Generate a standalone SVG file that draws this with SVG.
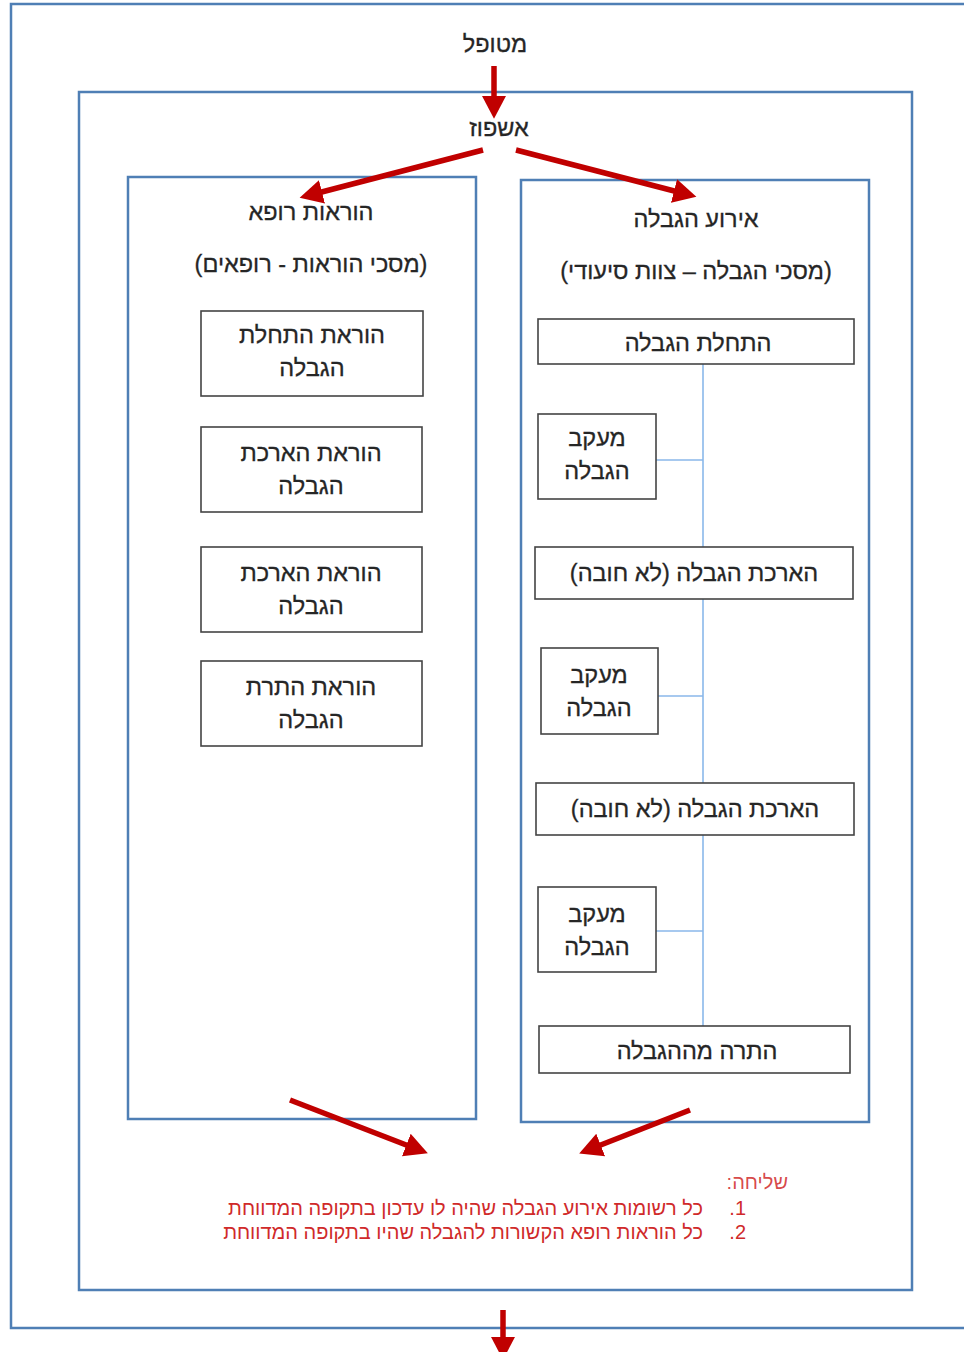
<svg xmlns="http://www.w3.org/2000/svg" width="964" height="1352" viewBox="0 0 964 1352">
<defs>
<style>
.frame{fill:none;stroke:#4f7fb5;stroke-width:2.5}
.box{fill:#fff;stroke:#444;stroke-width:1.6}
.t{font-family:"Liberation Sans","DejaVu Sans",sans-serif;font-size:23.5px;fill:#262626;stroke:#262626;stroke-width:0.3;text-anchor:middle}
.red{font-family:"Liberation Sans","DejaVu Sans",sans-serif;font-size:20px;fill:#d02a2a}
.arr{stroke:#c00000;stroke-width:5.5;fill:none;marker-end:url(#ah)}
.link{stroke:#8ab8ea;stroke-width:1.6;fill:none}
</style>
<marker id="ah" markerWidth="5" markerHeight="5" refX="1.5" refY="2.5" orient="auto" markerUnits="strokeWidth">
<path d="M0,0.3 L4.2,2.5 L0,4.7 Z" fill="#c00000"/>
</marker>
</defs>
<rect width="964" height="1352" fill="#fff"/>
<g id="frames">
<path class="frame" d="M980,4 H11 V1328 H980"/>
<rect class="frame" x="79" y="92" width="833" height="1198"/>
<rect class="frame" x="128" y="177" width="348" height="942"/>
<rect class="frame" x="521" y="180" width="348" height="942"/>
</g>
<g id="connectors">
<line class="arr" x1="494" y1="66" x2="494" y2="104"/>
<line class="arr" x1="483" y1="150" x2="314" y2="194"/>
<line class="arr" x1="516" y1="150" x2="682" y2="193"/>
<line class="arr" x1="290" y1="1100" x2="414" y2="1148"/>
<line class="arr" x1="690" y1="1110" x2="593" y2="1148"/>
<line class="arr" x1="503" y1="1310" x2="503" y2="1345"/>
<path class="link" d="M703,364 V1026 M656,460 H703 M658,696 H703 M656,931 H703"/>
</g>
<g id="n-metupal"><text class="t" x="495" y="52" direction="rtl">מטופל</text></g>
<g id="n-ishpuz"><text class="t" x="499" y="136" direction="rtl">אשפוז</text></g>
<g id="n-doctor-title">
<text class="t" x="311" y="220" direction="rtl">הוראות רופא</text>
<text class="t" x="311" y="272" direction="rtl">(מסכי הוראות - רופאים)</text>
</g>
<g id="n-event-title">
<text class="t" x="696" y="227" direction="rtl">אירוע הגבלה</text>
<text class="t" x="696" y="279" direction="rtl">(מסכי הגבלה – צוות סיעודי)</text>
</g>
<g id="n-l1"><rect class="box" x="201" y="311" width="222" height="85"/>
<text class="t" x="312" y="343" direction="rtl">הוראת התחלת</text><text class="t" x="312" y="376" direction="rtl">הגבלה</text></g>
<g id="n-l2"><rect class="box" x="201" y="427" width="221" height="85"/>
<text class="t" x="311" y="461" direction="rtl">הוראת הארכת</text><text class="t" x="311" y="494" direction="rtl">הגבלה</text></g>
<g id="n-l3"><rect class="box" x="201" y="547" width="221" height="85"/>
<text class="t" x="311" y="581" direction="rtl">הוראת הארכת</text><text class="t" x="311" y="614" direction="rtl">הגבלה</text></g>
<g id="n-l4"><rect class="box" x="201" y="661" width="221" height="85"/>
<text class="t" x="311" y="695" direction="rtl">הוראת התרת</text><text class="t" x="311" y="728" direction="rtl">הגבלה</text></g>
<g id="n-r1"><rect class="box" x="538" y="319" width="316" height="45"/>
<text class="t" x="698" y="351" direction="rtl">התחלת הגבלה</text></g>
<g id="n-r2"><rect class="box" x="538" y="414" width="118" height="85"/>
<text class="t" x="597" y="446" direction="rtl">מעקב</text><text class="t" x="597" y="479" direction="rtl">הגבלה</text></g>
<g id="n-r3"><rect class="box" x="535" y="547" width="318" height="52"/>
<text class="t" x="694" y="581" direction="rtl">הארכת הגבלה (לא חובה)</text></g>
<g id="n-r4"><rect class="box" x="541" y="648" width="117" height="86"/>
<text class="t" x="599" y="683" direction="rtl">מעקב</text><text class="t" x="599" y="716" direction="rtl">הגבלה</text></g>
<g id="n-r5"><rect class="box" x="536" y="783" width="318" height="52"/>
<text class="t" x="695" y="817" direction="rtl">הארכת הגבלה (לא חובה)</text></g>
<g id="n-r6"><rect class="box" x="538" y="887" width="118" height="85"/>
<text class="t" x="597" y="922" direction="rtl">מעקב</text><text class="t" x="597" y="955" direction="rtl">הגבלה</text></g>
<g id="n-r7"><rect class="box" x="539" y="1026" width="311" height="47"/>
<text class="t" x="697" y="1059" direction="rtl">התרה מההגבלה</text></g>
<g id="n-sending">
<text class="red" x="788" y="1189" direction="rtl" text-anchor="start" fill-opacity="0.85">שליחה:</text>
<text class="red" x="746" y="1215" direction="rtl" text-anchor="start">1.</text>
<text class="red" x="703" y="1215" direction="rtl" text-anchor="start">כל רשומות אירוע הגבלה שהיה לו עדכון בתקופה המדווחת</text>
<text class="red" x="746" y="1239" direction="rtl" text-anchor="start">2.</text>
<text class="red" x="703" y="1239" direction="rtl" text-anchor="start">כל הוראות רופא הקשורות להגבלה שהיו בתקופה המדווחת</text>
</g>
</svg>
